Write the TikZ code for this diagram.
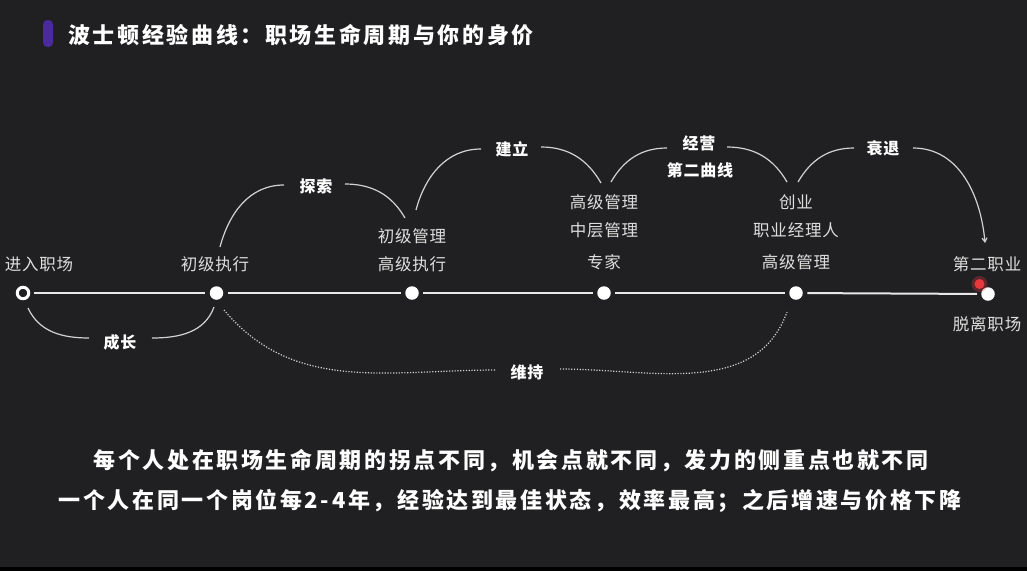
\documentclass[tikz,border=0pt]{standalone}
\usepackage{fontspec}
\usetikzlibrary{arrows.meta}
\newfontfamily\cjktitle[LetterSpace=12]{Noto Sans CJK SC}
\newfontfamily\cjkbottom[LetterSpace=12]{Noto Sans CJK SC}
\newfontfamily\cjklabel[LetterSpace=5]{Noto Sans CJK SC}
\definecolor{bg}{HTML}{202022}
\definecolor{barpurple}{HTML}{4B2A9E}
\definecolor{lbltext}{HTML}{DEDEDE}
\definecolor{conncol}{HTML}{D2D2D2}
\definecolor{linecol}{HTML}{E8E8E8}
\definecolor{reddot}{HTML}{E8383D}
\tikzset{
  dotfull/.style={circle, fill=white, inner sep=0pt, minimum size=13.5pt, outer sep=4.5pt},
  dothollow/.style={circle, draw=white, line width=3pt, fill=bg, inner sep=0pt, minimum size=11.5pt, outer sep=5.5pt},
  stagelbl/.style={text=lbltext, font=\cjklabel\fontsize{16.5}{18}\selectfont, inner sep=0pt},
  phaselbl/.style={text=white, font=\cjklabel\bfseries\fontsize{16}{18}\selectfont, inner sep=0pt},
  bottomtxt/.style={text=white, font=\cjkbottom\bfseries\fontsize{22}{26}\selectfont, inner sep=0pt},
  timeline/.style={draw=linecol, line width=2pt},
  conn/.style={draw=conncol, line width=1.2pt},
  dotconn/.style={draw=conncol, line width=1.2pt, dash pattern=on 1.2pt off 1.6pt}
}
\begin{document}
\begin{tikzpicture}[x=1pt,y=-1pt]
\fill[bg] (0,0) rectangle (1027,571);
\fill[black] (0,566.5) rectangle (1027,571);
\useasboundingbox (0,0) rectangle (1027,571);

% title
\fill[barpurple, rounded corners=4.5pt] (43,20) rectangle (53,47);
\node[anchor=west, text=white, inner sep=0pt, font=\cjktitle\bfseries\fontsize{22}{26}\selectfont] (title) at (68,35) {波士顿经验曲线：职场生命周期与你的身价};

% timeline dots
\node[dothollow] (n0) at (23,293) {};
\node[dotfull] (n1) at (216.5,293) {};
\node[dotfull] (n2) at (412,293) {};
\node[dotfull] (n3) at (604,293) {};
\node[dotfull] (n4) at (796,293) {};
\node[dotfull] (n5) at (988,294) {};
\draw[timeline] (n0) -- (n1);
\draw[timeline] (n1) -- (n2);
\draw[timeline] (n2) -- (n3);
\draw[timeline] (n3) -- (n4);
\draw[timeline] (n4) -- (n5);

% stage labels
\node[stagelbl] (l0) at (39,264) {进入职场};
\node[stagelbl] (l1) at (215,264) {初级执行};
\node[stagelbl] (l2a) at (412,236) {初级管理};
\node[stagelbl] (l2b) at (412,264) {高级执行};
\node[stagelbl] (l3a) at (604,202) {高级管理};
\node[stagelbl] (l3b) at (604,230) {中层管理};
\node[stagelbl] (l3c) at (604,262) {专家};
\node[stagelbl] (l4a) at (796,202) {创业};
\node[stagelbl] (l4b) at (796,230) {职业经理人};
\node[stagelbl] (l4c) at (796,262) {高级管理};
\node[stagelbl] (l5a) at (987,264) {第二职业};
\node[stagelbl] (l5b) at (987,324) {脱离职场};

% phase labels
\node[phaselbl] (pa) at (120,342) {成长};
\node[phaselbl] (pb) at (316,186) {探索};
\node[phaselbl] (pc) at (512,149) {建立};
\node[phaselbl] (pd1) at (699,143) {经营};
\node[phaselbl] (pd2) at (700,170) {第二曲线};
\node[phaselbl] (pe) at (883,148) {衰退};
\node[phaselbl] (pf) at (527,372) {维持};

% curve end points
\coordinate (a1s) at (28,308);  \coordinate (a1e) at (89,338);
\coordinate (a2s) at (152,338); \coordinate (a2e) at (214,307);
\coordinate (b1s) at (220,247); \coordinate (b1e) at (284,185);
\coordinate (b2s) at (345,184); \coordinate (b2e) at (405,218);
\coordinate (c1s) at (416,210); \coordinate (c1e) at (481,149);
\coordinate (c2s) at (541,147); \coordinate (c2e) at (601,183);
\coordinate (d1s) at (611,182); \coordinate (d1e) at (667,148);
\coordinate (d2s) at (727,147); \coordinate (d2e) at (787,182);
\coordinate (e1s) at (798,182); \coordinate (e1e) at (854,148);
\coordinate (e2s) at (913,148); \coordinate (e2e) at (985,243);
\coordinate (f1s) at (224,310); \coordinate (f1e) at (496,370);
\coordinate (f2s) at (560,369); \coordinate (f2e) at (787,312);

\draw[conn] (a1s) to[out=-65, in=180] (a1e);
\draw[conn] (a2s) to[out=0, in=-110] (a2e);
\draw[conn] (b1s) to[out=75, in=180] (b1e);
\draw[conn] (b2s) to[out=0, in=120] (b2e);
\draw[conn] (c1s) to[out=75, in=180] (c1e);
\draw[conn] (c2s) to[out=0, in=120] (c2e);
\draw[conn] (d1s) to[out=60, in=180] (d1e);
\draw[conn] (d2s) to[out=0, in=120] (d2e);
\draw[conn] (e1s) to[out=60, in=180] (e1e);
\draw[conn, -{Straight Barb[length=4pt,width=5pt]}] (e2s) to[out=0, in=95] (e2e);
\draw[dotconn] (f1s) to[out=-50, in=180] (f1e);
\draw[dotconn] (f2s) to[out=0, in=-110] (f2e);

% bottom text
\node[bottomtxt] (t1) at (511,461) {每个人处在职场生命周期的拐点不同，机会点就不同，发力的侧重点也就不同};
\node[bottomtxt] (t2) at (510,501) {一个人在同一个岗位每2-4年，经验达到最佳状态，效率最高；之后增速与价格下降};

% red pointer dot
\fill[reddot, opacity=0.3] (979.5,284) circle (8pt);
\fill[reddot] (979.5,284) circle (5pt);
\end{tikzpicture}
\end{document}
